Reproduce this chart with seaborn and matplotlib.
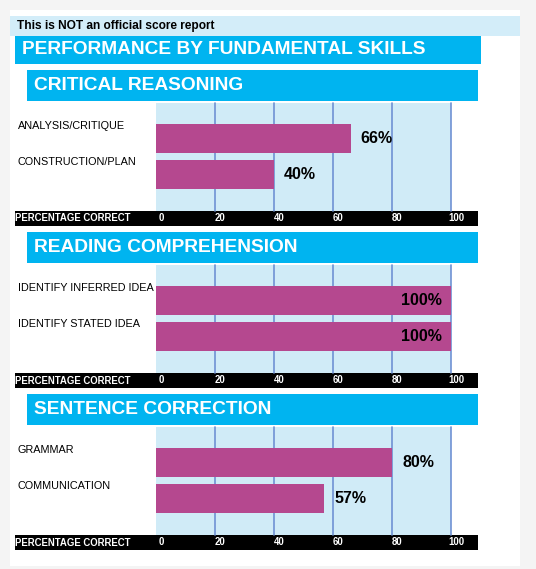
import matplotlib
matplotlib.use('Agg')
import matplotlib.pyplot as plt
import matplotlib.transforms as mtransforms
from matplotlib.patches import Rectangle
import seaborn as sns

# --- data ---
sections = ["CRITICAL REASONING", "READING COMPREHENSION", "SENTENCE CORRECTION"]
cr_skills = ["ANALYSIS/CRITIQUE", "CONSTRUCTION/PLAN"]
cr_scores = [66, 40]
rc_skills = ["IDENTIFY INFERRED IDEA", "IDENTIFY STATED IDEA"]
rc_scores = [100, 100]
sc_skills = ["GRAMMAR", "COMMUNICATION"]
sc_scores = [80, 57]
x_ticks = [0, 20, 40, 60, 80, 100]

# --- colours ---
PAGE = "#f4f4f4"
NOTE_BG = "#d3edf9"
BANNER = "#00b4f0"
PLOT_BG = "#d0ebf7"
GRID = "#6f92d4"
BAR = "#b5488f"

sns.set_theme(style="white")
plt.rcParams['font.family'] = ['Liberation Sans', 'DejaVu Sans']

W, H = 536, 569
fig = plt.figure(figsize=(W / 100, H / 100), dpi=100, facecolor=PAGE)


def frect(x0, y0, x1, y1):
    # pixel box (top-left origin) -> figure fraction [l, b, w, h]
    return [x0 / W, 1 - y1 / H, (x1 - x0) / W, (y1 - y0) / H]


def fig_box(x0, y0, x1, y1, color, z=-1):
    # negative zorder so the panels (axes) are drawn on top
    l, b, w, h = frect(x0, y0, x1, y1)
    fig.patches.append(Rectangle((l, b), w, h, transform=fig.transFigure,
                                 facecolor=color, edgecolor='none', zorder=z))


def fig_text(x, y, s, **kw):
    fig.text(x / W, 1 - y / H, s, **kw)


def px_offset(dx, dy=0):
    return mtransforms.ScaledTranslation(dx / 100, -dy / 100, fig.dpi_scale_trans)


# page + header
fig_box(10, 10, 520, 566, "white", -2)
fig_box(10, 16, 520, 35.5, NOTE_BG)
fig_text(17, 26, "This is NOT an official score report", fontsize=8.6,
         fontweight='bold', color='black', va='center', ha='left')
fig_box(15, 36, 481, 64, BANNER)
fig_text(22, 50, "PERFORMANCE BY FUNDAMENTAL SKILLS", fontsize=13.8,
         fontweight='bold', color='white', va='center', ha='left')

all_skills = [cr_skills, rc_skills, sc_skills]
all_scores = [cr_scores, rc_scores, sc_scores]

for i, (title, skills, scores) in enumerate(zip(sections, all_skills, all_scores)):
    top = 70 + 162 * i
    # section banner
    fig_box(27, top, 478, top + 30.5, BANNER)
    fig_text(34, top + 15.5, title, fontsize=13.8, fontweight='bold',
             color='white', va='center', ha='left')

    # bar panel
    p_top, p_bot = top + 32.5, top + 140.5
    ax = fig.add_axes(frect(156, p_top, 451, p_bot))
    ax.set_facecolor(PLOT_BG)
    sns.barplot(x=scores, y=skills, orient='h', color=BAR, saturation=1,
                width=0.78, edgecolor='none', ax=ax, zorder=3)
    ax.set_xlim(0, 100)
    ax.set_ylim(2.0, -1.0)
    for t in x_ticks[1:]:
        ax.axvline(t, color=GRID, lw=1.2, zorder=1, clip_on=False)
    ax.set_xlabel('')
    ax.set_ylabel('')
    ax.tick_params(length=0, labelbottom=False, labelleft=False)
    for sp in ax.spines.values():
        sp.set_visible(False)

    # skill labels above-left of each bar
    lab_tr = mtransforms.blended_transform_factory(fig.transFigure, ax.transData)
    for j, name in enumerate(skills):
        ax.text(18 / W, j - 0.35, name, transform=lab_tr, fontsize=7.8,
                color='black', va='center', ha='left', clip_on=False)

    # value labels
    for j, v in enumerate(scores):
        if v >= 100:
            ax.text(v, j, f"{v}%", transform=ax.transData + px_offset(-9),
                    fontsize=11.5, fontweight='bold', color='black',
                    va='center', ha='right', zorder=5)
        else:
            ax.text(v, j, f"{v}%", transform=ax.transData + px_offset(10),
                    fontsize=11.5, fontweight='bold', color='black',
                    va='center', ha='left', zorder=5)

    # black axis band with tick labels
    b_top = p_bot + 0.5
    fig_box(15, b_top, 478, b_top + 14.5, "black")
    fig_text(15, b_top + 7.5, "PERCENTAGE CORRECT", fontsize=6.9,
             fontweight='bold', color='white', va='center', ha='left')
    tick_tr = mtransforms.blended_transform_factory(ax.transData, ax.transAxes)
    for t in x_ticks:
        ax.text(t, -7.5 / 108, str(t), transform=tick_tr + px_offset(5),
                fontsize=6.9, fontweight='bold', color='white',
                va='center', ha='center', clip_on=False)

fig.savefig("out.png", dpi=100, facecolor=PAGE)
